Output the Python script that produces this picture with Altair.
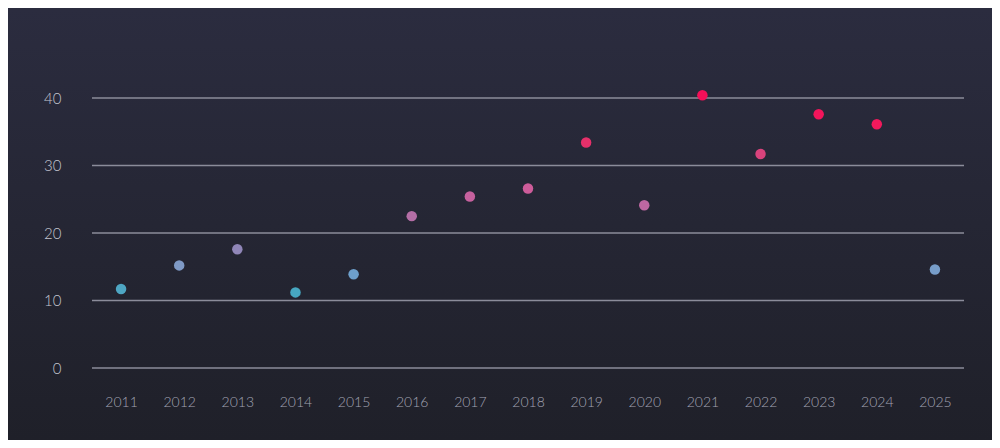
import altair as alt
import pandas as pd

years = ["2011", "2012", "2013", "2014", "2015", "2016", "2017", "2018",
         "2019", "2020", "2021", "2022", "2023", "2024", "2025"]
values = [11.7, 15.2, 17.6, 11.2, 13.9, 22.5, 25.4, 26.6,
          33.4, 24.1, 40.4, 31.7, 37.6, 36.1, 14.6]
y_ticks = [0, 10, 20, 30, 40]

color_domain = [11, 14, 15.2, 17.6, 22.5, 25.4, 27, 31.7, 33.4, 36, 40.4]
color_range = ["#44a8c0", "#6fa0cc", "#7f9ac6", "#9086b8", "#b46ea6", "#c6619e",
               "#cf5a98", "#d9437c", "#e5306a", "#f2195c", "#f50f58"]

df = pd.DataFrame({"year": years, "value": values})
grid_df = pd.DataFrame({"value": y_ticks})

font = "Lato"
W, H = 872, 270
PAD = {"left": 84, "top": 90, "right": 28, "bottom": 72}

y_scale = alt.Scale(domain=[0, 40], nice=False)

bg = alt.Chart(alt.Data(values=[{"k": 1}])).mark_rect(
    clip=False,
    color=alt.Gradient(gradient="linear", x1=0, x2=0, y1=0, y2=1,
                       stops=[alt.GradientStop(offset=0, color="#2b2c3f"),
                              alt.GradientStop(offset=1, color="#1f2029")]),
).encode(
    x=alt.value(-PAD["left"]), x2=alt.value(W + PAD["right"]),
    y=alt.value(-PAD["top"]), y2=alt.value(H + PAD["bottom"]),
)

grid = alt.Chart(grid_df).mark_rule(color="#8b8c9a", strokeWidth=1.5).encode(
    y=alt.Y("value:Q", scale=y_scale),
    x=alt.value(0), x2=alt.value(W),
)

points = alt.Chart(df).mark_circle(size=110, opacity=1, clip=False).encode(
    x=alt.X("year:O", sort=years,
            scale=alt.Scale(type="point", padding=0.5),
            axis=alt.Axis(title=None, labelAngle=0, ticks=False, domain=False,
                          grid=False, labelPadding=27, labelFontSize=14,
                          labelFontWeight=300, zindex=1,
                          labelColor="#a2a3b3", labelFont=font)),
    y=alt.Y("value:Q", scale=y_scale,
            axis=alt.Axis(title=None, values=y_ticks, ticks=False,
                          domain=False, grid=False, labelPadding=31,
                          labelFontSize=15, labelFontWeight=300, zindex=1,
                          labelColor="#c4c5d0", labelFont=font)),
    color=alt.Color("value:Q", legend=None,
                    scale=alt.Scale(domain=color_domain, range=color_range,
                                    type="linear", interpolate="rgb")),
)

chart = alt.layer(bg, grid, points).properties(
    width=W, height=H,
    autosize=alt.AutoSizeParams(type="none"),
    padding=PAD,
    background="#262736",
).configure_view(stroke=None)

chart.save("out.html", embed_options={"renderer": "svg", "actions": False})
